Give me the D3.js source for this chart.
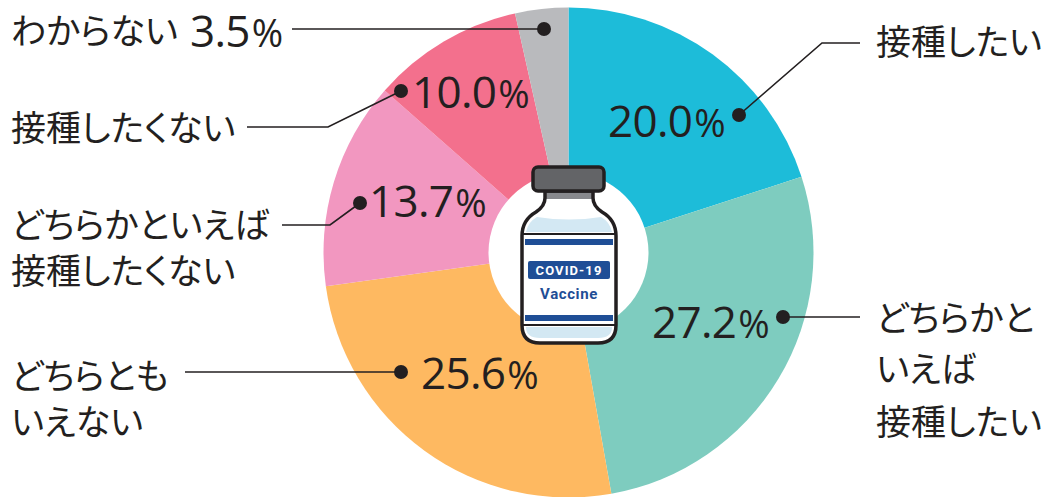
<!DOCTYPE html>
<html><head><meta charset="utf-8">
<script src="https://cdnjs.cloudflare.com/ajax/libs/d3/7.8.5/d3.min.js"></script>
<style>html,body{margin:0;background:#fff}svg{display:block}
.jp{font-family:"Noto Sans CJK JP";font-weight:400;font-size:35px;fill:#231f20;font-feature-settings:"palt"}
.num{font-family:"Open Sans";font-weight:400;fill:#231f20}
</style></head><body><svg id="c" width="1042" height="497"></svg>
<script>
const categories=["接種したい","どちらかといえば接種したい","どちらともいえない","どちらかといえば接種したくない","接種したくない","わからない"];
const values=[20.0,27.2,25.6,13.7,10.0,3.5];
const valueLabels=["20.0","27.2","25.6","13.7","10.0","3.5"];
const colors=["#1dbcd9","#7eccbf","#feb961","#f297c0","#f3708d","#b9babd"];
const labelLines=[["接種したい"],["どちらかと","いえば","接種したい"],["どちらとも","いえない"],["どちらかといえば","接種したくない"],["接種したくない"],["わからない"]];

const svg=d3.select("#c"),cx=568.5,cy=252.5,R=245,r0=80;
const pie=d3.pie().sort(null).value(d=>d)(values);
const arc=d3.arc().innerRadius(0).outerRadius(R);
const g=svg.append("g").attr("transform",`translate(${cx},${cy})`);
g.selectAll("path").data(pie).join("path").attr("d",arc).attr("fill",(d,i)=>colors[i]);
svg.append("circle").attr("cx",cx).attr("cy",cy).attr("r",r0).attr("fill","#fff");

const ink="#231f20";
// annotation layout, by slice index
const layout=[
 {line:[[860,43],[822,43],[739,115]],text:[[876,45]],num:[608,137]},
 {line:[[860,317],[783,317]],text:[[876,321],[876,372],[876,425]],num:[652,338]},
 {line:[[185,372],[330,372],[401,372]],text:[[11,379],[11,425]],num:[421,389]},
 {line:[[282,225],[330,225],[360,203]],text:[[11,228],[11,274]],num:[369,217]},
 {line:[[247,127],[328,127],[401,91]],text:[[11,131]],num:[412,108]},
 {line:[[292,29],[544,29]],text:[[11,34]],num:[190,47]}
];
layout.forEach((l,i)=>{
 svg.append("path").attr("d",d3.line()(l.line)).attr("fill","none").attr("stroke",ink).attr("stroke-width",1.6);
 const e=l.line[l.line.length-1];
 svg.append("circle").attr("cx",e[0]).attr("cy",e[1]).attr("r",7).attr("fill",ink);
 labelLines[i].forEach((t,j)=>{
  svg.append("text").attr("class","jp").attr("x",l.text[j][0]).attr("y",l.text[j][1]).attr("dominant-baseline","middle").text(t);
 });
 const n=svg.append("text").attr("class","num").attr("x",l.num[0]).attr("y",l.num[1]);
 n.append("tspan").attr("font-size",44).attr("font-weight",500).attr("letter-spacing",-.7).text(valueLabels[i]);
 n.append("tspan").attr("font-size",38).attr("font-weight",400).attr("dx",2).text("%");
});

// vial
const v=svg.append("g");
const body="M545,191 L545,198 Q545,206 536,212 Q522,220 522,236 L522,325 Q522,343 540,343 L598,343 Q616,343 616,325 L616,236 Q616,220 602,212 Q593,206 593,198 L593,191 Z";
v.append("path").attr("d",body).attr("fill","#fff");
v.append("rect").attr("x",546).attr("y",190).attr("width",46).attr("height",9).attr("fill","#87888c");
v.append("path").attr("d","M526,232 Q528,222 537,217 Q569,222 601,217 Q610,222 612,232 Z").attr("fill","#d3e8f3");
v.append("path").attr("d","M526,327 L612,327 Q612,338 598,338 L540,338 Q526,338 526,327 Z").attr("fill","#d3e8f3");
[[233,2],[324,2]].forEach(a=>v.append("rect").attr("x",522).attr("y",a[0]).attr("width",94).attr("height",a[1]).attr("fill",ink));
[239,315].forEach(y=>v.append("rect").attr("x",525).attr("y",y).attr("width",88).attr("height",6).attr("fill","#1f4e96"));
v.append("path").attr("d",body).attr("fill","none").attr("stroke",ink).attr("stroke-width",3.5);
v.append("rect").attr("x",533).attr("y",167).attr("width",71).attr("height",24).attr("rx",5).attr("fill","#636467").attr("stroke",ink).attr("stroke-width",3.5);
v.append("rect").attr("x",528).attr("y",261).attr("width",82).attr("height",18).attr("rx",2).attr("fill","#1f4e96");
v.append("text").attr("x",569).attr("y",275).attr("text-anchor","middle").attr("font-family","Roboto").attr("font-weight",700).attr("font-size",13).attr("letter-spacing",1.1).attr("fill","#fff").text("COVID-19");
v.append("text").attr("x",569).attr("y",299).attr("text-anchor","middle").attr("font-family","Roboto").attr("font-weight",700).attr("font-size",15).attr("letter-spacing",.6).attr("fill","#1f4e96").text("Vaccine");
</script></body></html>
